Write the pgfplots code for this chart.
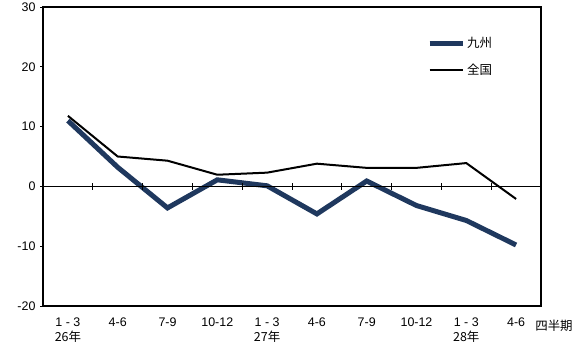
\documentclass[border=0pt]{standalone}
\usepackage{pgfplots}
\pgfplotsset{compat=1.18}
\usepackage{fontspec}
\setmainfont{Liberation Sans}
\newfontfamily\cjk{Noto Sans CJK JP}
\usetikzlibrary{calc}
\definecolor{kyu}{RGB}{31,56,94}
\begin{document}
\begin{tikzpicture}
\path[use as bounding box] (-43bp,-41bp) rectangle (530bp,306bp);
\begin{axis}[name=ax, at={(0,0)}, anchor=south west,
  scale only axis, width=498bp, height=299bp,
  xmin=-0.5, xmax=9.5, ymin=-20, ymax=30,
  ytick={-20,-10,0,10,20,30},
  xtick={0,...,9},
  xticklabels={{1 - 3\\{\cjk 26年}}, 4-6, 7-9, 10-12, {1 - 3\\{\cjk 27年}}, 4-6, 7-9, 10-12, {1 - 3\\{\cjk 28年}}, 4-6},
  xticklabel style={align=center, anchor=north, yshift=-5bp, font=\fontsize{12.5}{15}\selectfont},
  x tick style={draw=none},
  ytick pos=left, tick align=outside, major tick length=3bp,
  y tick style={black, line width=0.8pt},
  yticklabel style={font=\fontsize{12.5}{14}\selectfont, xshift=-1bp},
  /pgf/number format/assume math mode=true,
  axis line style={line width=1.3pt},
  legend cell align=left,
  legend style={at={(0.765,0.912)}, anchor=north west, draw=none, fill=none,
    font=\cjk\fontsize{12.5}{14}\selectfont, row sep=11bp},
  legend image code/.code={\draw[#1] (0bp,0bp) -- (33bp,0bp);},
  clip=false,
]
\addplot[kyu, line width=5bp] coordinates {(0,11.0) (1,3.2) (2,-3.6) (3,1.1) (4,0.1) (5,-4.6) (6,0.9) (7,-3.2) (8,-5.7) (9,-9.8)};
\addlegendentry{九州}
\addplot[black, line width=2bp] coordinates {(0,11.8) (1,5.0) (2,4.3) (3,1.95) (4,2.3) (5,3.8) (6,3.1) (7,3.1) (8,3.9) (9,-2.1)};
\addlegendentry{全国}
\draw[line width=1.3pt] (axis cs:-0.5,0) -- (axis cs:9.5,0);
\pgfplotsinvokeforeach{0.5,1.5,...,8.5}{\draw[line width=0.8pt] (axis cs:#1,-0.6) -- (axis cs:#1,0.6);}
\end{axis}
\node[font=\cjk\fontsize{12.5}{14}\selectfont, anchor=north] at ($(ax.south east)+(13bp,-11bp)$) {四半期};
\end{tikzpicture}
\end{document}
